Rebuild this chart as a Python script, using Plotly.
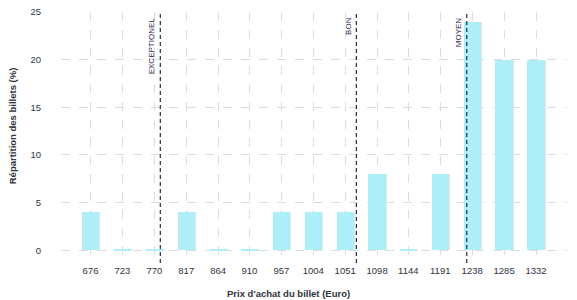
import plotly.graph_objects as go

prices = [676, 723, 770, 817, 864, 910, 957, 1004, 1051, 1098, 1144, 1191, 1238, 1285, 1332]
shares = [4, 0, 0, 4, 0, 0, 4, 4, 4, 8, 0, 8, 24, 20, 20]
ref_labels = ["EXCEPTIONEL", "BON", "MOYEN"]
ref_prices = [778.8, 1067.5, 1230]

BAR = "#aeeef8"
NAVY = "#1f2b48"
TXT = "#2e3440"
FONT = "Liberation Sans, Arial, sans-serif"

disp = [max(v, 0.15) for v in shares]
bw = 25.5

fig = go.Figure()
fig.add_trace(go.Bar(x=[p + 1.5 for p in prices], y=disp, width=bw,
                     marker=dict(color="#e6e6e6", line=dict(width=0)),
                     hoverinfo="skip", showlegend=False))
fig.add_trace(go.Bar(x=prices, y=disp, width=bw,
                     marker=dict(color=BAR, line=dict(width=0)),
                     customdata=shares, hovertemplate="%{x}: %{customdata}%<extra></extra>",
                     showlegend=False))

for lab, p in zip(ref_labels, ref_prices):
    fig.add_shape(type="line", x0=p, x1=p, y0=-1.33, y1=25, xref="x", yref="y",
                  line=dict(color=NAVY, width=1.2, dash="4px,3px"), layer="above")
    fig.add_annotation(x=p, y=25, xref="x", yref="y", text=lab, textangle=-90,
                       showarrow=False, xanchor="right", yanchor="top", xshift=-2, yshift=-3,
                       font=dict(family=FONT, size=8, color=NAVY))

fig.add_annotation(x=288, y=294, xref="paper", yref="paper", text="<b>Prix d'achat du billet (Euro)</b>",
                   showarrow=False, xanchor="center", yanchor="middle",
                   font=dict(family=FONT, size=9.5, color=TXT))
fig.add_annotation(x=12, y=123, xref="paper", yref="paper", text="<b>Répartition des billets (%)</b>",
                   showarrow=False, xanchor="center", yanchor="middle", textangle=-90,
                   font=dict(family=FONT, size=9.5, color=TXT))

# convert pixel positions of titles to paper coords
W, H, L, R, T, B = 577, 300, 61, 10, 6, 37
pw, ph = W - L - R, H - T - B
for a in fig.layout.annotations[-2:]:
    a.x = (a.x - L) / pw
    a.y = (H - B - a.y) / ph

fig.update_layout(
    width=W, height=H,
    margin=dict(l=L, r=R, t=T, b=B),
    paper_bgcolor="white", plot_bgcolor="white",
    barmode="overlay", bargap=0,
    font=dict(family=FONT, size=9, color=TXT),
    xaxis=dict(range=[632.6, 1377.6], tickvals=prices, ticktext=[str(p) for p in prices],
               showgrid=True, gridcolor="#dcdcdc", griddash="dash", gridwidth=1,
               zeroline=False, showline=False, ticks="", ticklen=0,
               tickfont=dict(size=9.5, color=TXT)),
    yaxis=dict(range=[-1.33, 25], tickvals=[0, 5, 10, 15, 20, 25],
               showgrid=True, gridcolor="#dcdcdc", griddash="dash", gridwidth=1,
               zeroline=False, showline=False, ticks="", ticklen=0, ticklabelstandoff=19,
               tickfont=dict(size=9.5, color=TXT)),
)

fig.write_html("out.html")
